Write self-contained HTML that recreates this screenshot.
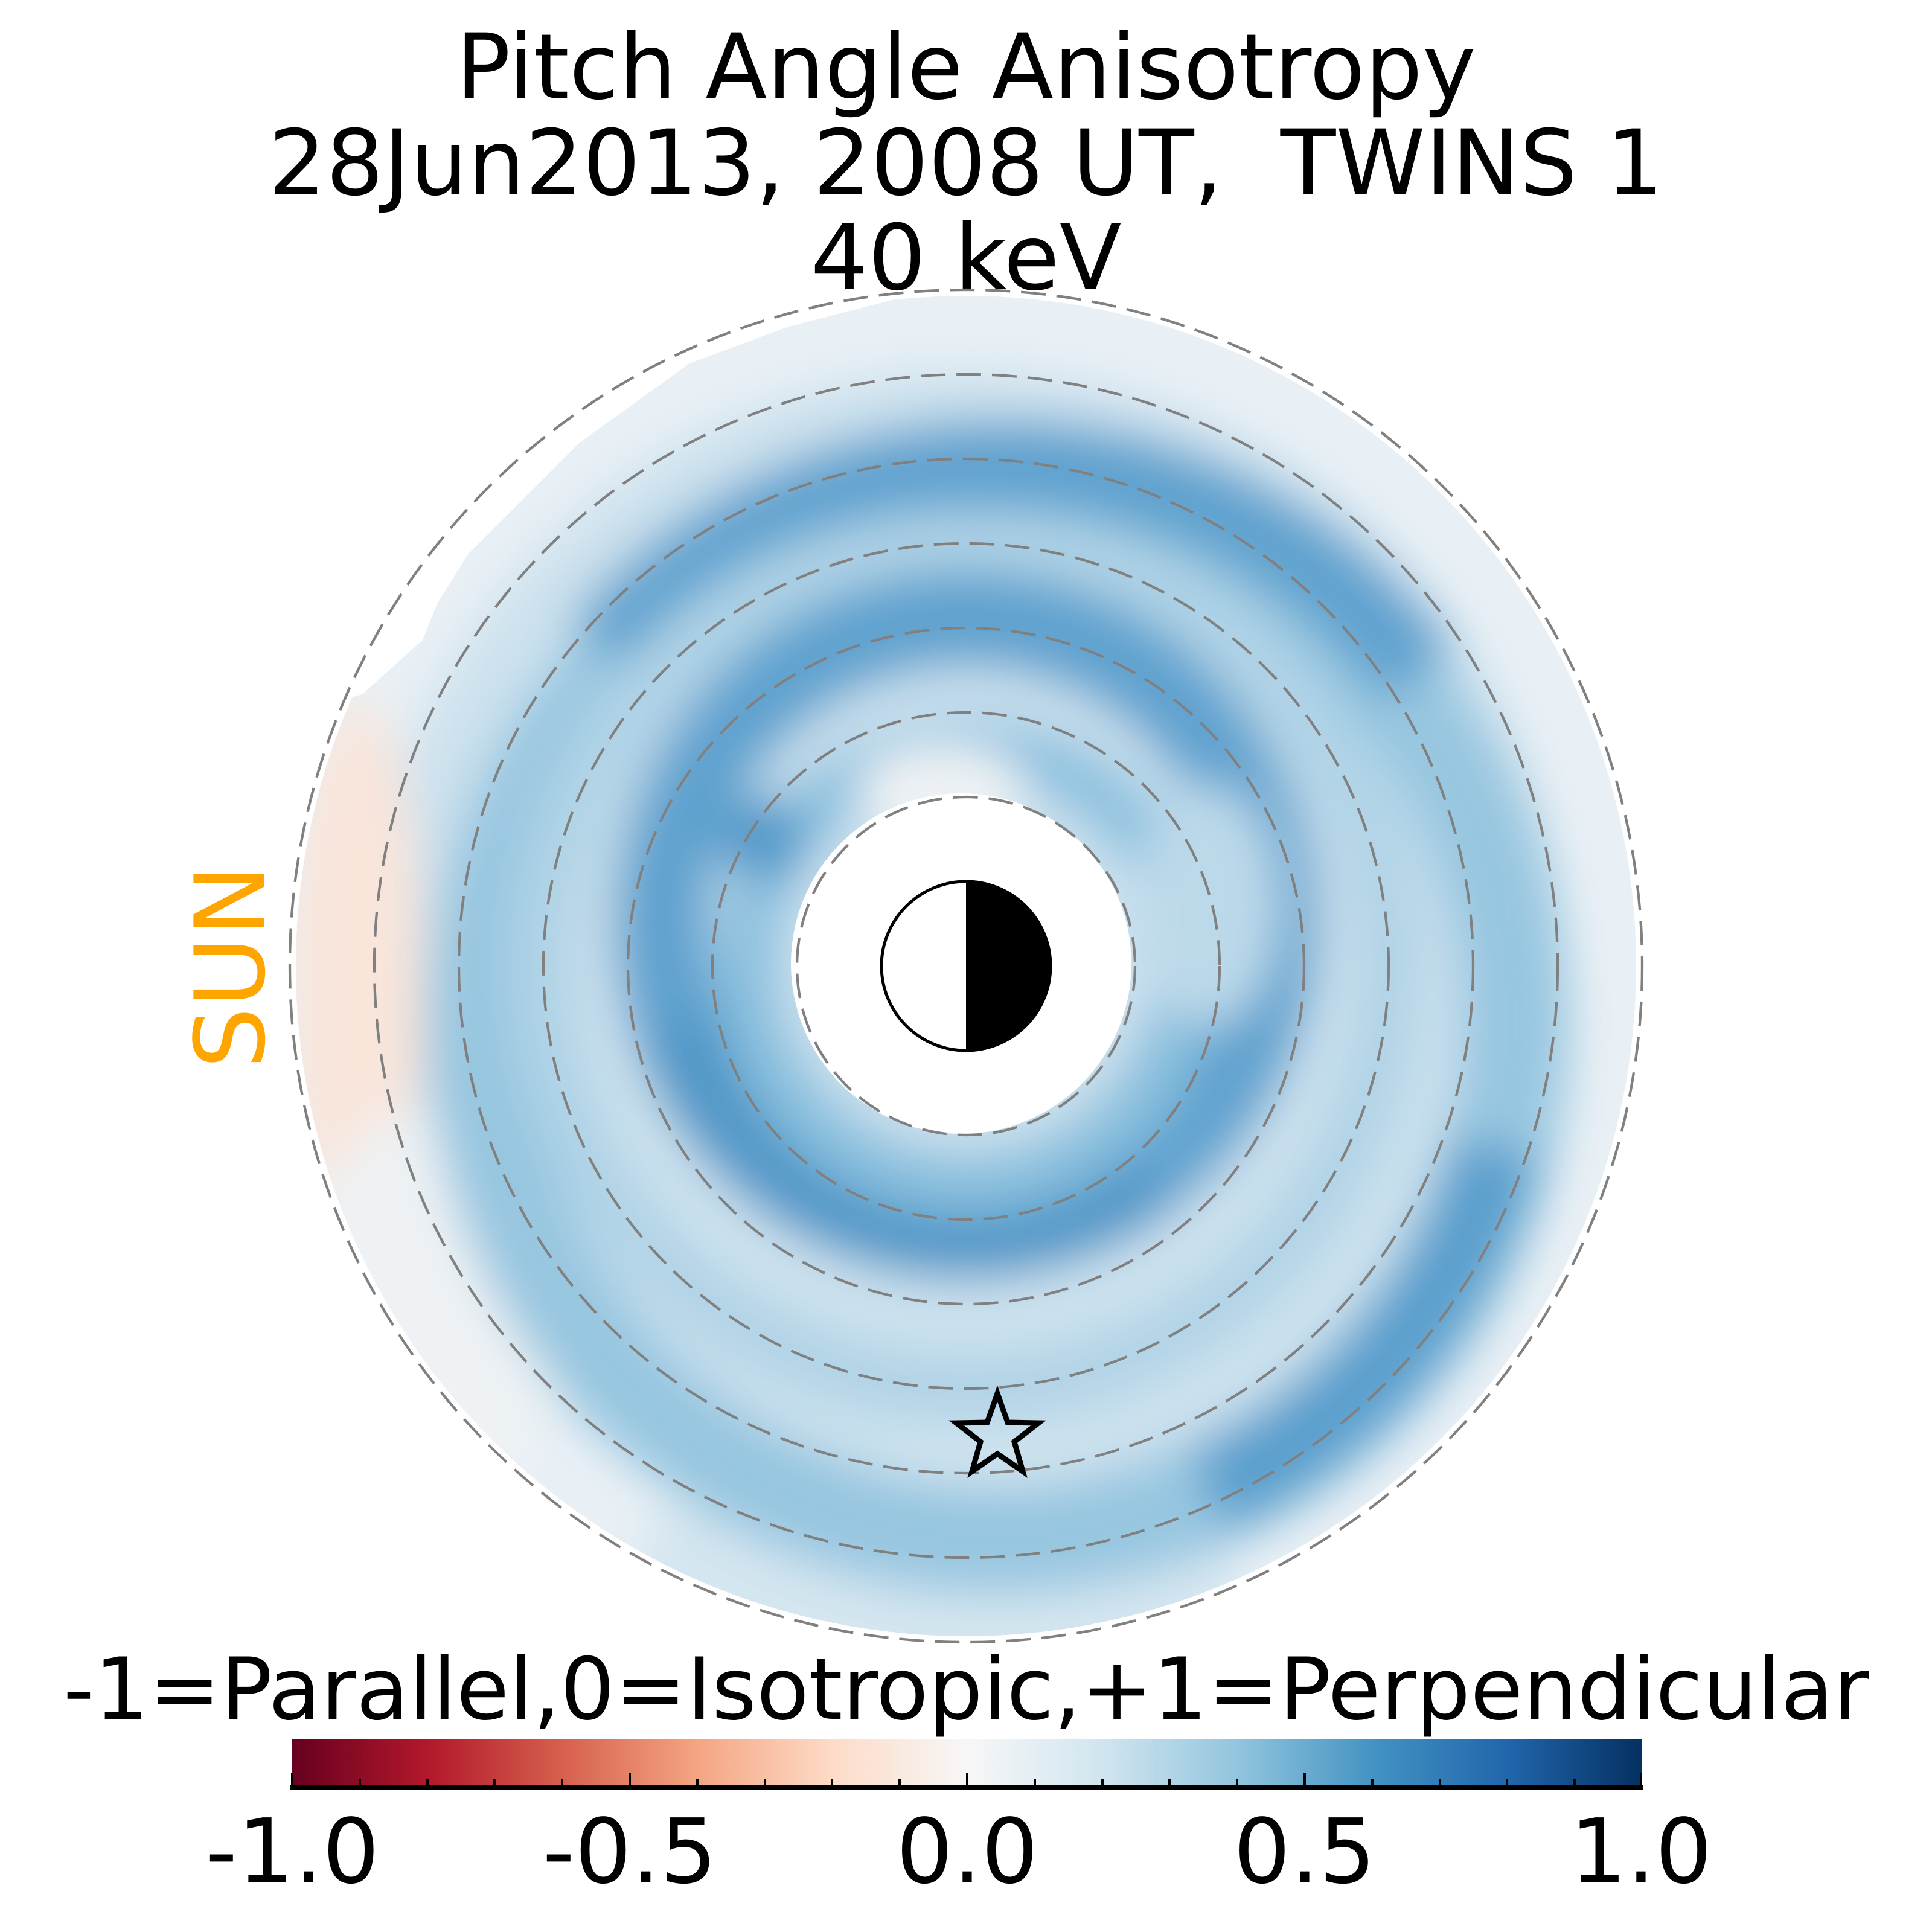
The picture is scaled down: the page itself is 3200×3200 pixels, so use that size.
<!DOCTYPE html>
<html><head><meta charset="utf-8"><style>
html,body{margin:0;padding:0;background:#fff;}
svg{display:block;}
text{font-family:"DejaVu Sans","Liberation Sans",sans-serif;}
</style></head><body>
<svg width="3200" height="3200" viewBox="0 0 3200 3200" xmlns="http://www.w3.org/2000/svg">
<defs>
<filter id="bl" x="-20%" y="-20%" width="140%" height="140%"><feGaussianBlur stdDeviation="38"/></filter>
<clipPath id="disk"><circle cx="1600" cy="1600" r="1110"/></clipPath>
<clipPath id="cut"><polygon points="1540,0 3200,0 3200,3200 0,3200 0,1300 600,1150 700,1060 724,1000 775,918 877,816 959,734 1142,602 1306,541 1520,486"/></clipPath>
<linearGradient id="cb" x1="0" x2="1" y1="0" y2="0">
<stop offset="0" stop-color="#67001f"/><stop offset="0.1" stop-color="#b2182b"/>
<stop offset="0.2" stop-color="#d6604d"/><stop offset="0.3" stop-color="#f4a582"/>
<stop offset="0.4" stop-color="#fddbc7"/><stop offset="0.5" stop-color="#f7f7f7"/>
<stop offset="0.6" stop-color="#d1e5f0"/><stop offset="0.7" stop-color="#92c5de"/>
<stop offset="0.8" stop-color="#4393c3"/><stop offset="0.9" stop-color="#2166ac"/>
<stop offset="1" stop-color="#053061"/></linearGradient>
</defs>
<rect width="3200" height="3200" fill="#fff"/>
<text x="1600" y="163" font-size="150" text-anchor="middle">Pitch Angle Anisotropy</text>
<text x="1600" y="322" font-size="150" text-anchor="middle">28Jun2013, 2008 UT,&#160; TWINS 1</text>
<text x="1600" y="479" font-size="150" text-anchor="middle">40 keV</text>

<g clip-path="url(#disk)"><g clip-path="url(#cut)">
<rect x="0" y="0" width="3200" height="3200" fill="#e9f0f5"/>
<g filter="url(#bl)">
<circle cx="1600" cy="1600" r="990" fill="#cde2ee"/>
<ellipse cx="590" cy="1640" rx="110" ry="480" fill="#f9e5da"/>
<ellipse cx="720" cy="2150" rx="220" ry="320" fill="#eef2f4"/>
<ellipse cx="1550" cy="2600" rx="500" ry="200" fill="#d4e6f0"/>
<circle cx="1652" cy="1693" r="857" fill="none" stroke="#97c6e0" stroke-width="180"/>
<path d="M 1000 1080 A 857 857 0 0 1 2350 1120" fill="none" stroke="#5ea2cf" stroke-width="150"/>
<path d="M 2480 1900 A 857 857 0 0 1 2000 2470" fill="none" stroke="#5a9fcd" stroke-width="150"/>
<circle cx="1600" cy="1600" r="700" fill="none" stroke="#b0d3e6" stroke-width="110"/>
<circle cx="1600" cy="1530" r="505" fill="none" stroke="#5fa2cf" stroke-width="160"/>
<path d="M 1120 1700 A 505 505 0 0 0 1900 1950" fill="none" stroke="#4f97c8" stroke-width="140"/>
<circle cx="1600" cy="1600" r="360" fill="none" stroke="#8ac0de" stroke-width="100"/>
<circle cx="1265" cy="1390" r="70" fill="#4f98c9"/>
<ellipse cx="1560" cy="1310" rx="140" ry="80" fill="#eef2f4"/>
<ellipse cx="2000" cy="1500" rx="120" ry="200" fill="#bcd9ea"/>
</g>
</g></g>
<circle cx="1592" cy="1596" r="282" fill="#fff"/>

<g fill="none" stroke="#808080" stroke-width="4.3" stroke-dasharray="41 18">
<circle cx="1600" cy="1600" r="280"/><circle cx="1600" cy="1600" r="420"/>
<circle cx="1600" cy="1600" r="560"/><circle cx="1600" cy="1600" r="700"/>
<circle cx="1600" cy="1600" r="840"/><circle cx="1600" cy="1600" r="980"/>
<circle cx="1600" cy="1600" r="1120"/>
</g>
<circle cx="1600" cy="1600" r="140" fill="#fff" stroke="#000" stroke-width="5"/>
<path d="M1600 1460 A140 140 0 0 1 1600 1740 Z" fill="#000"/>
<polygon fill="none" stroke="#000" stroke-width="9" stroke-linejoin="miter"
points="1652,2308 1669,2356 1720,2357 1680,2388 1694,2437 1652,2408 1610,2437 1624,2388 1584,2357 1635,2356"/>
<text x="0" y="0" font-size="160" fill="#FFA500" text-anchor="middle" transform="translate(437,1601) rotate(-90)">SUN</text>

<text x="1600" y="2847" font-size="142" text-anchor="middle">-1=Parallel,0=Isotropic,+1=Perpendicular</text>
<rect x="484" y="2880" width="2236" height="80" fill="url(#cb)"/>
<g stroke="#000" stroke-width="4">
<line x1="484" y1="2960" x2="484" y2="2937"/><line x1="1043" y1="2960" x2="1043" y2="2937"/>
<line x1="1602" y1="2960" x2="1602" y2="2937"/><line x1="2161" y1="2960" x2="2161" y2="2937"/>
<line x1="2718" y1="2960" x2="2718" y2="2937"/>
<line x1="596" y1="2960" x2="596" y2="2947"/><line x1="708" y1="2960" x2="708" y2="2947"/>
<line x1="819" y1="2960" x2="819" y2="2947"/><line x1="931" y1="2960" x2="931" y2="2947"/>
<line x1="1155" y1="2960" x2="1155" y2="2947"/><line x1="1267" y1="2960" x2="1267" y2="2947"/>
<line x1="1378" y1="2960" x2="1378" y2="2947"/><line x1="1490" y1="2960" x2="1490" y2="2947"/>
<line x1="1714" y1="2960" x2="1714" y2="2947"/><line x1="1826" y1="2960" x2="1826" y2="2947"/>
<line x1="1937" y1="2960" x2="1937" y2="2947"/><line x1="2049" y1="2960" x2="2049" y2="2947"/>
<line x1="2273" y1="2960" x2="2273" y2="2947"/><line x1="2385" y1="2960" x2="2385" y2="2947"/>
<line x1="2496" y1="2960" x2="2496" y2="2947"/><line x1="2608" y1="2960" x2="2608" y2="2947"/>
</g>
<rect x="480" y="2957" width="2242" height="7" fill="#000"/>
<g font-size="148" text-anchor="middle">
<text x="484" y="3118">-1.0</text><text x="1043" y="3118">-0.5</text>
<text x="1602" y="3118">0.0</text><text x="2161" y="3118">0.5</text><text x="2718" y="3118">1.0</text>
</g>
</svg>
</body></html>
